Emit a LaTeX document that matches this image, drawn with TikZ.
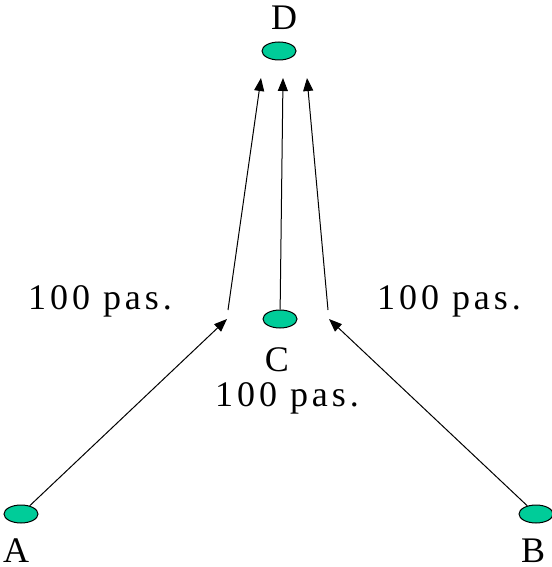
\documentclass[tikz,border=0pt]{standalone}
\usepackage{fontspec}
\setmainfont{Liberation Serif}
\newfontfamily\spacedfont[LetterSpace=11]{Liberation Serif}
\usetikzlibrary{arrows.meta,positioning,shapes.geometric}

\definecolor{spotgreen}{RGB}{0,204,153}
\tikzset{
  spot/.style={ellipse,draw=black,line width=0.5pt,fill=spotgreen,
    minimum width=17pt,minimum height=9pt,inner sep=0pt},
  lbl/.style={font=\fontsize{18}{20}\selectfont,inner sep=0pt},
  dist/.style={font=\fontsize{18}{20}\selectfont\spacedfont,inner sep=0pt},
  arr/.style={-{Triangle[length=6.5pt,width=5pt]},line width=0.5pt}
}

\begin{document}
\begin{tikzpicture}[x=0.5pt,y=-0.5pt]
\useasboundingbox (0,0) rectangle (551,567);

% ---- points ----
\node[spot] (D) at (279,51) {};
\node[spot] (C) at (280,319) {};
\node[spot] (A) at (21,514) {};
\node[spot] (B) at (536,514) {};

% ---- letters ----
\node[lbl] (lD) at (284,18) {D};
\node[lbl] (lC) at (277,360) {C};
\node[lbl] (lA) at (16,551) {A};
\node[lbl] (lB) at (533,551) {B};

% ---- distances ----
\node[dist] (dA) at (100,301) {100 pas.};
\node[dist] (dB) at (449,301) {100 pas.};
\node[dist] (dC) at (287,398) {100 pas.};

% ---- free ends ----
\coordinate (tl) at (261,78);
\coordinate (tm) at (283,78);
\coordinate (tr) at (307,78);
\coordinate (cl) at (228,310);
\coordinate (cr) at (328,310);
\coordinate (al) at (227,319);
\coordinate (br) at (329,319);

% ---- arrows ----
\draw[arr] (A) -- (al);
\draw[arr] (B) -- (br);
\draw[arr] (cl) -- (tl);
\draw[arr] (C) -- (tm);
\draw[arr] (cr) -- (tr);

\end{tikzpicture}
\end{document}
